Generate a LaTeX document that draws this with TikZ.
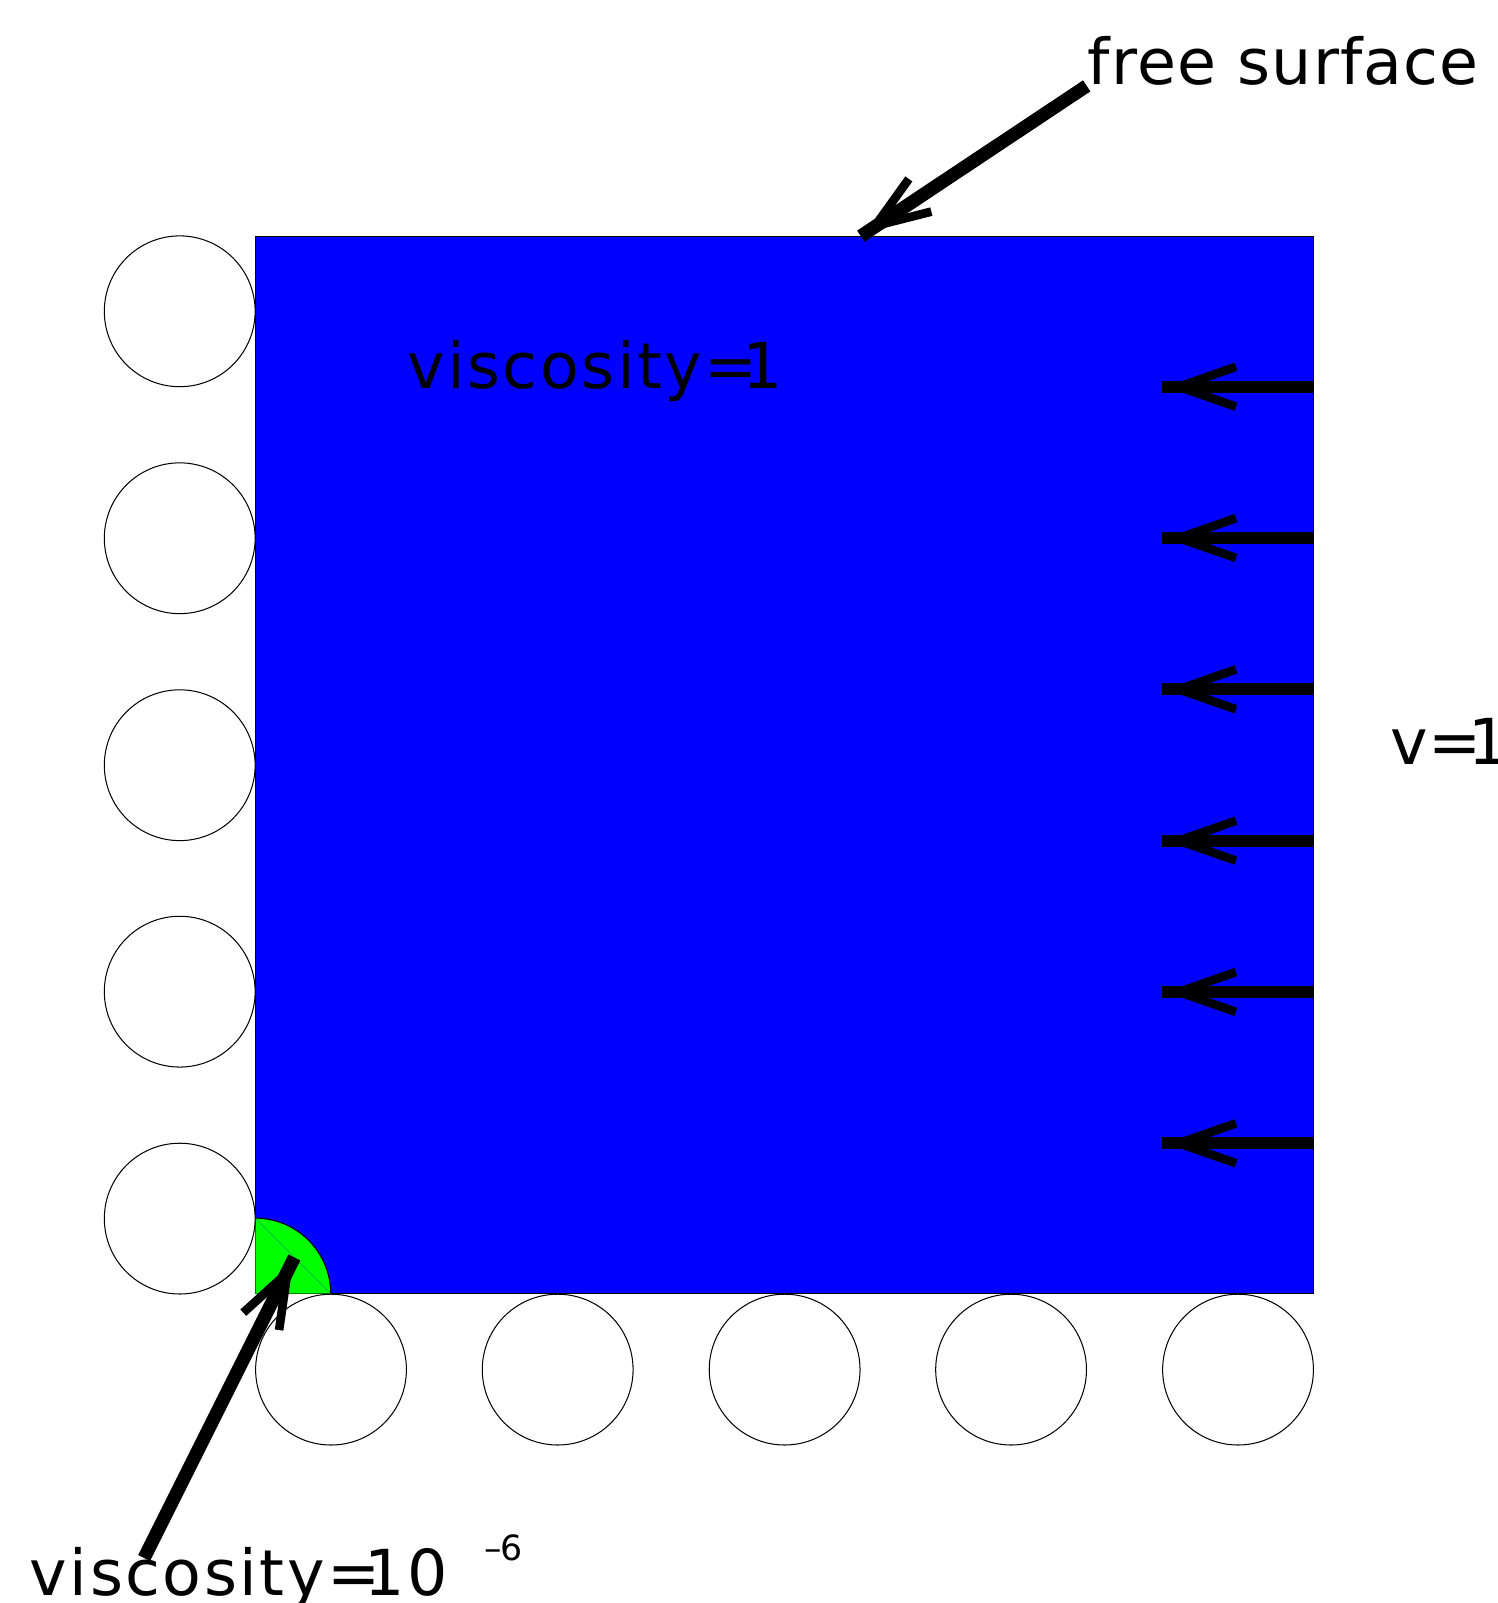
\documentclass[tikz,border=0pt]{standalone}
\usepackage{fontspec}
\setmainfont{DejaVu Sans}
\newfontfamily\trackA[LetterSpace=1.8]{DejaVu Sans}
\newfontfamily\trackB[LetterSpace=4.0]{DejaVu Sans}
\tikzset{
  roller/.style={draw=black,line width=1pt,fill=white,circle,minimum size=147.5pt,inner sep=0pt},
  bigarrow/.style={draw=black,line width=12pt,line cap=butt},
  slantarrow/.style={draw=black,line width=13pt,line cap=butt},
  wing/.style={draw=black,line width=8.5pt,line cap=butt,line join=miter},
  lab/.style={inner sep=0pt,anchor=base west,text=black,font=\fontsize{62}{70}\selectfont},
  sup6/.style={inner sep=0pt,anchor=base west,text=black,font=\fontsize{34}{38}\selectfont}
}
\begin{document}
\begin{tikzpicture}[x=1pt,y=-1pt]
\useasboundingbox (0,0) rectangle (1465,1568);
% domain
\draw[fill=blue,draw=black,line width=1pt] (249.5,231) rectangle (1284.5,1265.5);
\fill[green] (249.5,1265.5) -- (249.5,1191.5) arc[start angle=90,end angle=0,radius=74pt] -- cycle;
\draw[black,line width=1pt] (249.5,1191.5) arc[start angle=90,end angle=0,radius=74pt];
\draw[black!50!green,line width=.7pt] (249.5,1265.5) -- (249.5,1191.5);
\draw[black!50!green,line width=.7pt] (249.5,1265.5) -- (323.5,1265.5);
\draw[blue!35!green,line width=.4pt] (249.5,1191.5) -- (323.5,1265.5);
% rollers
\foreach \n/\y in {1/304.5,2/526.5,3/748.5,4/970,5/1192}
  \node[roller] (L\n) at (175.8,\y) {};
\foreach \n/\x in {1/323.8,2/545.5,3/767.5,4/989,5/1211}
  \node[roller] (B\n) at (\x,1339.7) {};
% labels
\node[lab] (freelab) at (1064,83) {\trackA free surface};
\node[lab] (visc) at (398,380) {\trackB viscosity=\kern-.25em 1};
\node[lab] (vel) at (1360,748) {v=\kern-.2em 1};
\node[lab] (visc2) at (29,1561) {\trackB viscosity=\kern-.25em 10};
\node[sup6] (expo) at (474,1526) {–\kern-1.5pt 6};
% velocity arrows
\foreach \n/\y in {1/378.3,2/526.3,3/674.3,4/822.3,5/970.3,6/1118.3}{
  \coordinate (s\n) at (1284.5,\y);
  \coordinate (t\n) at (1137,\y);
  \coordinate (j\n) at (1153,\y);
  \coordinate (u\n) at (1209,\y-19.5);
  \coordinate (d\n) at (1209,\y+19.5);
  \draw[bigarrow] (s\n) -- (t\n);
  \draw[wing] (u\n) -- (j\n) -- (d\n);
}
% free surface arrow
\coordinate (fs) at (1063,84);
\coordinate (ft) at (842,231);
\coordinate (fj) at (856,221);
\coordinate (fu) at (889,175);
\coordinate (fd) at (911,207);
\draw[slantarrow] (fs) -- (ft);
\draw[wing] (fu) -- (fj) -- (fd);
% low viscosity arrow
\coordinate (vs) at (141,1524);
\coordinate (vt) at (288,1230);
\coordinate (vj) at (281,1245);
\coordinate (vu) at (238,1284);
\coordinate (vd) at (273,1301);
\draw[slantarrow] (vs) -- (vt);
\draw[wing] (vu) -- (vj) -- (vd);
\end{tikzpicture}
\end{document}
